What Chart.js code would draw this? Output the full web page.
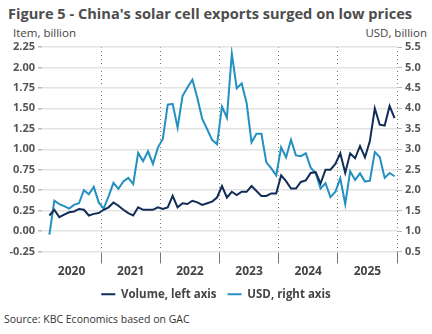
<!DOCTYPE html>
<html>
<head>
<meta charset="utf-8">
<script src="https://cdn.jsdelivr.net/npm/chart.js@4.4.1/dist/chart.umd.min.js"></script>
<style>
  body { margin: 0; width: 432px; height: 334px; background: #fff; overflow: hidden; font-family: "Open Sans", sans-serif; }
  #title { position: absolute; left: 8px; top: 3px; font-size: 14.6px; font-weight: 700; color: #4d4d4d; white-space: nowrap; }
  .unit { position: absolute; top: 25px; font-size: 11.5px; color: #444; }
  #unitL { left: 13px; }
  #unitR { right: 5px; }
  #source { position: absolute; left: 4px; top: 312px; font-size: 10.5px; color: #333; }
  #wrap { position: absolute; left: 0; top: 0; width: 432px; height: 310px; }
</style>
</head>
<body>
<div id="title">Figure 5 - China's solar cell exports surged on low prices</div>
<div class="unit" id="unitL">Item, billion</div>
<div class="unit" id="unitR">USD, billion</div>
<div id="wrap"><canvas id="chart"></canvas></div>
<div id="source">Source: KBC Economics based on GAC</div>
<script>
// monthly series, first value = Feb 2020
const firstMonth = 1;
const years = ["2020", "2021", "2022", "2023", "2024", "2025"];

// Volume, billion items (left axis)
const volume = [
  0.19, 0.26, 0.17, 0.20, 0.23, 0.24, 0.27, 0.26, 0.19, 0.21, 0.22,
  0.26, 0.29, 0.35, 0.31, 0.26, 0.22, 0.19, 0.29, 0.26, 0.26, 0.26, 0.29,
  0.27, 0.29, 0.43, 0.29, 0.34, 0.33, 0.37, 0.35, 0.32, 0.34, 0.36, 0.41,
  0.55, 0.41, 0.48, 0.44, 0.48, 0.48, 0.55, 0.49, 0.43, 0.43, 0.46, 0.46,
  0.68, 0.61, 0.52, 0.52, 0.60, 0.62, 0.71, 0.72, 0.58, 0.75, 0.75, 0.82,
  0.95, 0.71, 0.95, 0.89, 1.04, 0.90, 1.10, 1.50, 1.30, 1.29, 1.53, 1.38
];

// Value, USD billion (right axis)
const usd = [
  0.91, 1.74, 1.66, 1.61, 1.55, 1.64, 1.68, 2.00, 1.90, 2.08, 1.70,
  1.55, 1.85, 2.18, 2.03, 2.21, 2.30, 2.15, 2.91, 2.71, 2.95, 2.64, 3.04,
  3.25, 4.09, 4.11, 3.53, 4.30, 4.51, 4.70, 4.26, 3.74, 3.49, 3.23, 3.12,
  4.04, 3.77, 5.34, 4.49, 4.61, 4.13, 3.17, 3.38, 3.38, 2.68, 2.53, 2.36,
  3.05, 2.80, 3.23, 2.85, 2.83, 2.90, 2.55, 2.42, 2.04, 2.17, 1.83, 1.96,
  2.29, 1.66, 2.46, 2.25, 2.41, 2.21, 2.23, 2.93, 2.81, 2.30, 2.42, 2.34
];

const NAVY = "#102c57";
const LIGHT = "#2490c2";
const TICK_FONT = { family: "Open Sans", size: 11, weight: "bold" };

// points sit in the middle of their month
const toPoints = arr => arr.map((v, i) => ({ x: firstMonth + i + 0.5, y: v }));

new Chart(document.getElementById("chart"), {
  type: "line",
  data: {
    datasets: [
      {
        label: "Volume, left axis",
        data: toPoints(volume),
        yAxisID: "y",
        borderColor: NAVY,
        backgroundColor: NAVY,
        borderWidth: 2,
        pointRadius: 0,
        tension: 0
      },
      {
        label: "USD, right axis",
        data: toPoints(usd),
        yAxisID: "y2",
        borderColor: LIGHT,
        backgroundColor: LIGHT,
        borderWidth: 2,
        pointRadius: 0,
        tension: 0
      }
    ]
  },
  options: {
    responsive: true,
    maintainAspectRatio: false,
    animation: false,
    layout: { padding: { top: 47, left: 0, right: 0, bottom: 0 } },
    plugins: {
      tooltip: { enabled: false },
      legend: {
        position: "bottom",
        labels: {
          usePointStyle: true,
          pointStyle: "line",
          pointStyleWidth: 14,
          padding: 11,
          color: "#444",
          font: { family: "Open Sans", size: 11.5, weight: "bold" }
        }
      }
    },
    scales: {
      x: {
        type: "linear",
        min: 0,
        max: 72,
        afterBuildTicks: axis => {
          axis.ticks = [];
          for (let v = 0; v <= 72; v += 6) axis.ticks.push({ value: v });
        },
        afterFit: axis => { axis.height = 26; },
        ticks: {
          autoSkip: false,
          maxRotation: 0,
          padding: 1,
          color: "#444",
          font: { family: "Open Sans", size: 12, weight: "bold" },
          callback: v => (v % 12 === 6 ? years[(v - 6) / 12] : "")
        },
        grid: {
          color: ctx => (ctx.tick && ctx.tick.value > 0 && ctx.tick.value % 12 === 0 ? "#777" : "rgba(0,0,0,0)"),
          lineWidth: 1,
          tickLength: 12
        },
        border: { display: false, dash: [1, 3] }
      },
      y: {
        position: "left",
        min: -0.25,
        max: 2.25,
        afterFit: axis => { axis.width = 42; },
        ticks: {
          stepSize: 0.25,
          padding: 3,
          color: "#555",
          font: TICK_FONT,
          callback: v => v.toFixed(2)
        },
        grid: { color: "#e3e3e3", lineWidth: 1.5, tickLength: 4, tickColor: "#bbb" },
        border: { display: false }
      },
      y2: {
        position: "right",
        min: 0.5,
        max: 5.5,
        afterFit: axis => { axis.width = 35; },
        ticks: {
          stepSize: 0.5,
          padding: 3,
          color: "#555",
          font: TICK_FONT,
          callback: v => v.toFixed(1)
        },
        grid: { drawOnChartArea: false, tickLength: 5, tickColor: "#bbb", lineWidth: 1 },
        border: { display: false }
      }
    }
  }
});
</script>
</body>
</html>
